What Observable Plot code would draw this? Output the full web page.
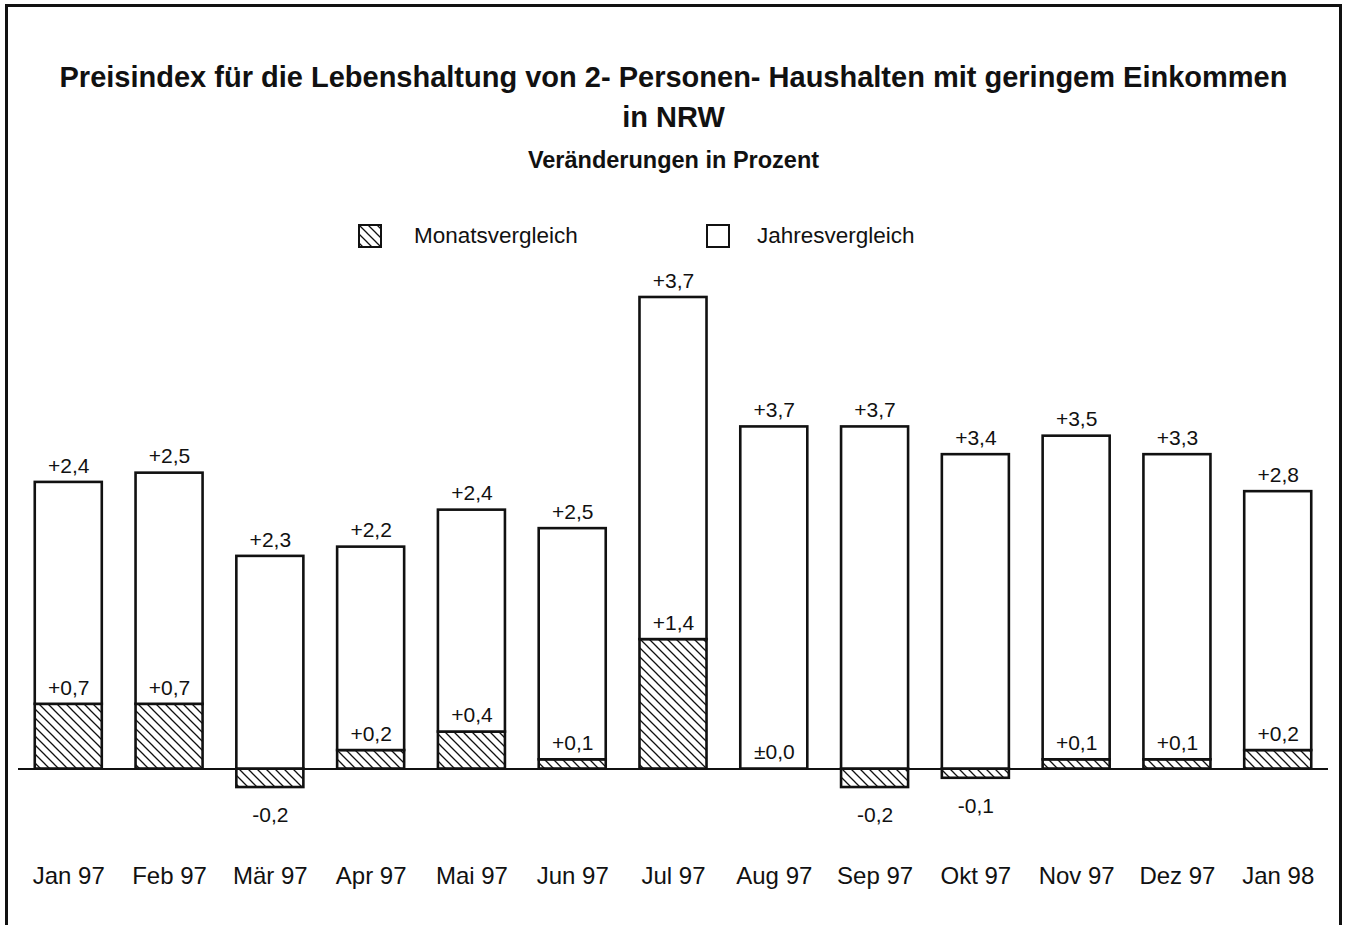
<!DOCTYPE html>
<html>
<head>
<meta charset="utf-8">
<script src="https://cdn.jsdelivr.net/npm/d3@7"></script>
<script src="https://cdn.jsdelivr.net/npm/@observablehq/plot@0.6"></script>
<style>
  html, body { margin: 0; padding: 0; background: #fff; }
  #page { position: relative; width: 1347px; height: 925px; overflow: hidden;
          font-family: "Liberation Sans", Arial, Helvetica, sans-serif; color: #111; background: #fff; }
  #frame { position: absolute; left: 5px; top: 4px; width: 1337px; height: 1000px;
           border: 3px solid #111; box-sizing: border-box; }
  .title { position: absolute; left: 0; width: 1347px; text-align: center; font-weight: bold; }
  #t1 { top: 57px; font-size: 29px; line-height: 40px; }
  #t2 { top: 145px; font-size: 23.5px; line-height: 30px; }
  .leg { position: absolute; top: 224px; height: 24px; display: flex; align-items: center; font-size: 22.5px; }
  .leg svg { display: block; }
  #chart { position: absolute; left: 0; top: 260px; }
</style>
</head>
<body>
<div id="page">
  <div id="frame"></div>
  <div class="title" id="t1">Preisindex für die Lebenshaltung von 2- Personen- Haushalten mit geringem Einkommen<br>in NRW</div>
  <div class="title" id="t2">Veränderungen in Prozent</div>
  <div class="leg" id="leg1" style="left:358px"></div>
  <div class="leg" id="leg2" style="left:706px"></div>
  <div id="chart"></div>
</div>
<script>
// ---- data ----
const months = ["Jan 97","Feb 97","Mär 97","Apr 97","Mai 97","Jun 97","Jul 97","Aug 97","Sep 97","Okt 97","Nov 97","Dez 97","Jan 98"];
const monatsvergleich = [0.7, 0.7, -0.2, 0.2, 0.4, 0.1, 1.4, 0.0, -0.2, -0.1, 0.1, 0.1, 0.2];
const jahresvergleich = [2.4, 2.5, 2.3, 2.2, 2.4, 2.5, 3.7, 3.7, 3.7, 3.4, 3.5, 3.3, 2.8];
const seriesNames = ["Monatsvergleich", "Jahresvergleich"];

const rows = months.flatMap((m, i) => [
  {month: m, series: seriesNames[0], value: monatsvergleich[i]},
  {month: m, series: seriesNames[1], value: jahresvergleich[i]}
]);
const fmt = v => v === 0 ? "±0,0" : (v > 0 ? "+" : "-") + Math.abs(v).toFixed(1).replace(".", ",");

const ink = "#111";
const patternDef = (id) => `<pattern id="${id}" patternUnits="userSpaceOnUse" width="9" height="9">
  <rect width="9" height="9" fill="#fff"/>
  <path d="M0,0L9,9M-1,8L1,10M8,-1L10,1" stroke="${ink}" stroke-width="1.3"/></pattern>`;

// ---- legend ----
document.getElementById("leg1").innerHTML =
  `<svg width="24" height="24"><defs>${patternDef("hatchLeg")}</defs><rect x="1" y="1" width="22" height="22" fill="url(#hatchLeg)" stroke="${ink}" stroke-width="2"/></svg><span style="margin-left:32px">${seriesNames[0]}</span>`;
document.getElementById("leg2").innerHTML =
  `<svg width="24" height="24"><rect x="1" y="1" width="22" height="22" fill="#fff" stroke="${ink}" stroke-width="2"/></svg><span style="margin-left:27px">${seriesNames[1]}</span>`;

// ---- chart ----
const chart = Plot.plot({
  width: 1347,
  height: 641,
  marginTop: 0,
  marginBottom: 40,
  marginLeft: 1,
  marginRight: 2,
  style: {fontFamily: '"Liberation Sans", Arial, Helvetica, sans-serif', fontSize: "24px", color: ink, background: "transparent", overflow: "visible"},
  x: {domain: months, padding: 0.335, round: false, tickSize: 0, tickPadding: 5, label: null},
  y: {domain: [-1, 5.5], axis: null},
  color: {domain: seriesNames, range: ["url(#hatch)", "#fff"]},
  marks: [
    Plot.barY(rows, Plot.stackY({x: "month", y: "value", z: "series", fill: "series", stroke: ink, strokeWidth: 2.6})),
    Plot.ruleY([0], {stroke: ink, strokeWidth: 2, insetLeft: 17, insetRight: 17}),
    Plot.text(rows, Plot.stackY2({
      x: "month", y: "value", z: "series",
      text: d => (d.series === seriesNames[1] || d.value >= 0) ? fmt(d.value) : "",
      dy: -16.5, fontSize: 21, fill: ink
    })),
    Plot.text(rows, Plot.stackY2({
      x: "month", y: "value", z: "series",
      text: d => (d.series === seriesNames[0] && d.value < 0) ? fmt(d.value) : "",
      dy: 28, fontSize: 21, fill: ink
    }))
  ]
});
d3.select(chart).insert("defs", ":first-child").html(patternDef("hatch"));
document.getElementById("chart").appendChild(chart);
</script>
</body>
</html>
